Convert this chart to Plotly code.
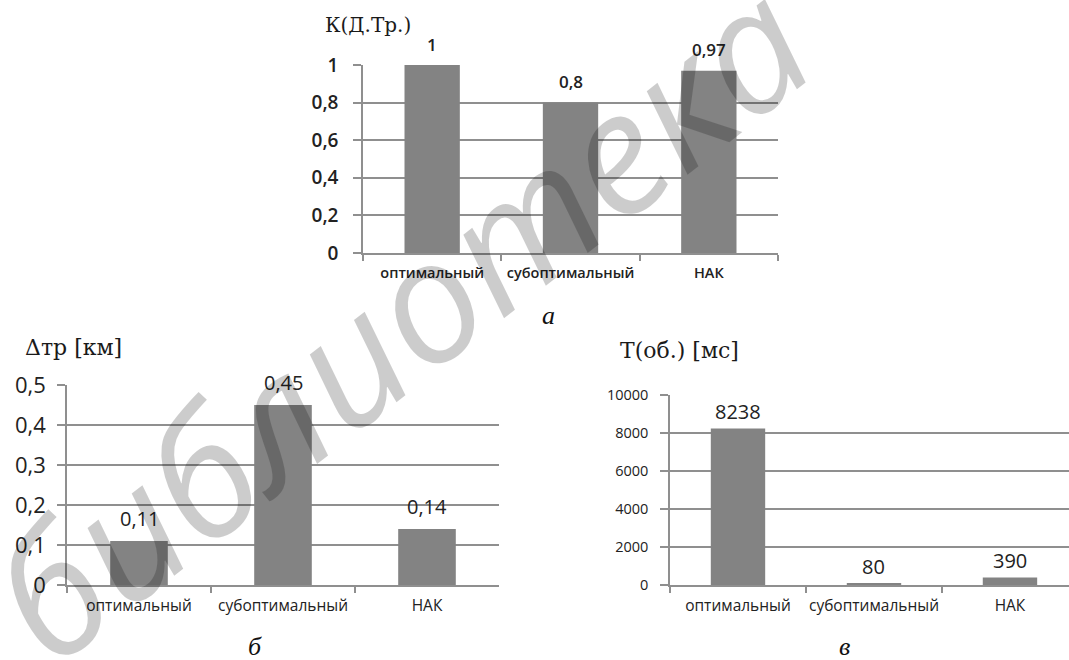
import plotly.graph_objects as go

# ---- data ----
categories = ["оптимальный", "субоптимальный", "НАК"]
k_values = [1, 0.8, 0.97]          # chart а
dtr_values = [0.11, 0.45, 0.14]    # chart б
t_values = [8238, 80, 390]         # chart в

y_titles = ["К(Д.Тр.)", "Δтр [км]", "Т(об.) [мс]"]
captions = ["а", "б", "в"]
watermark = "библиотека"

# ---- style ----
W, H = 1069, 660
BAR = "#838383"
GRID = "#8f8f8f"
TXT = "#222222"
SANS = "'Open Sans', Lato, sans-serif"
SERIF = "'DejaVu Serif', serif"


def px(x):
    return x / W


def py(y):
    return 1 - y / H


panels = [
    dict(vals=k_values, xd=[363, 778], yd=[65, 253], yr=[0, 1], dt=0.2, fmt="",
         tick=dict(size=19, weight=600), xtick=dict(size=14.5, weight=600),
         lab=dict(size=17, weight=600),
         shift=21, title=(368, 25, 20), cap=(548, 315), xr=None, stand=11),
    dict(vals=dtr_values, xd=[67, 499], yd=[385, 585], yr=[0, 0.5], dt=0.1, fmt="",
         tick=dict(size=22), xtick=dict(size=15.5), lab=dict(size=20),
         shift=23, title=(73, 347, 22), cap=(255, 646), xr=None, stand=7),
    dict(vals=t_values, xd=[670, 1069], yd=[395, 585], yr=[0, 10000], dt=2000, fmt="d",
         tick=dict(size=14.5), xtick=dict(size=15.5), lab=dict(size=20),
         shift=17, title=(679, 350, 22), cap=(844, 646), xr=[-0.5, 2.434], stand=9),
]

fig = go.Figure()
annotations = []
for i, p in enumerate(panels):
    sfx = "" if i == 0 else str(i + 1)
    xa, ya = "x" + sfx, "y" + sfx
    fig.add_trace(go.Bar(x=categories, y=p["vals"], xaxis=xa, yaxis=ya,
                         marker=dict(color=BAR, line=dict(width=0)),
                         showlegend=False, hoverinfo="x+y"))
    xaxis = dict(domain=[px(p["xd"][0]), min(1, px(p["xd"][1]))], anchor=ya, automargin=False,
                 showline=True, linecolor=GRID, linewidth=1.5,
                 ticks="outside", tickson="boundaries", ticklen=6, tickcolor=GRID,
                 tickwidth=1.5, showgrid=False, fixedrange=True, tickangle=0,
                 tickfont=dict(family=SANS, color=TXT, **p["xtick"]),
                 ticklabelstandoff=6)
    if p["xr"] is not None:
        xaxis["range"] = p["xr"]
    yaxis = dict(domain=[py(p["yd"][1]), py(p["yd"][0])], anchor=xa, automargin=False,
                 range=p["yr"], dtick=p["dt"], tick0=0, tickformat=p["fmt"],
                 showgrid=True, gridcolor=GRID, gridwidth=1.6, zeroline=False,
                 showline=True, linecolor=GRID, linewidth=1.5,
                 ticks="outside", ticklen=8, tickcolor=GRID, tickwidth=1.5,
                 ticklabelstandoff=p["stand"], fixedrange=True,
                 tickfont=dict(family=SANS, color=TXT, **p["tick"]))
    fig.update_layout({"xaxis" + sfx: xaxis, "yaxis" + sfx: yaxis})

    for c, v in zip(categories, p["vals"]):
        annotations.append(dict(x=c, y=v, xref=xa, yref=ya, text=str(v).replace(".", ","),
                                showarrow=False, yanchor="middle", yshift=p["shift"],
                                font=dict(family=SANS, color=TXT, **p["lab"])))
    tx, ty, ts = p["title"]
    annotations.append(dict(x=px(tx), y=py(ty), xref="paper", yref="paper",
                            text=y_titles[i], showarrow=False,
                            xanchor="center", yanchor="middle",
                            font=dict(family=SERIF, size=ts, color="#1a1a1a")))
    cx, cy = p["cap"]
    annotations.append(dict(x=px(cx), y=py(cy), xref="paper", yref="paper",
                            text="<i>" + captions[i] + "</i>", showarrow=False,
                            xanchor="center", yanchor="middle",
                            font=dict(family="'Liberation Serif', serif", size=26, color="#111")))

annotations.append(dict(x=px(397), y=py(318), xref="paper", yref="paper",
                        text="<i>" + watermark + "</i>", showarrow=False, textangle=-38,
                        xanchor="center", yanchor="middle",
                        font=dict(family="'Open Sans', sans-serif", size=170,
                                  color="rgba(0,0,0,0.2)")))

fig.update_layout(width=W, height=H, margin=dict(l=0, r=0, t=0, b=0, autoexpand=False),
                  paper_bgcolor="white", plot_bgcolor="white",
                  separators=", ", bargap=0.6, annotations=annotations,
                  showlegend=False)

fig.write_html("out.html", config={"displayModeBar": False},
               post_script="document.body.style.margin='0px';"
                           "document.body.style.overflow='hidden';")
